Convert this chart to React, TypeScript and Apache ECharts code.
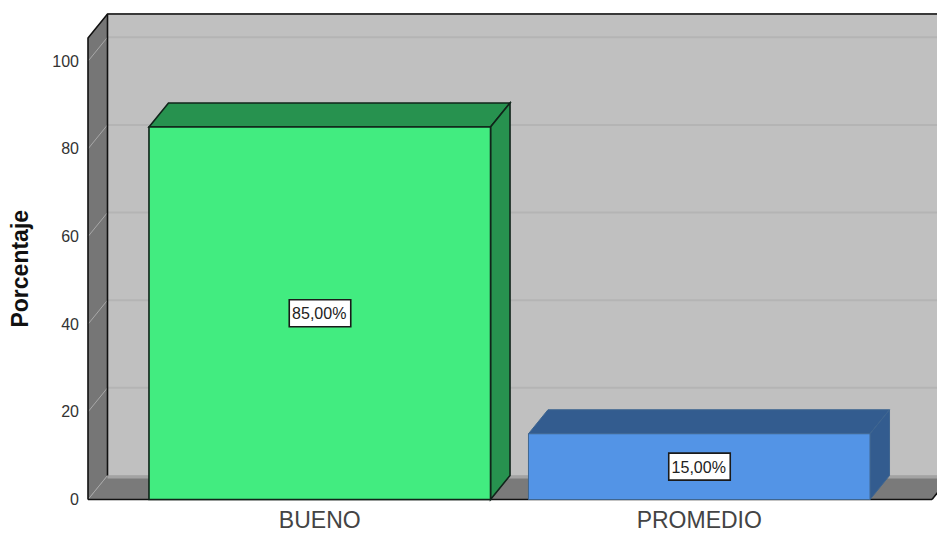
import React, { useEffect, useRef } from "react";
import * as echarts from "echarts";

const categories = ["BUENO", "PROMEDIO"];
const percentages = [85, 15];
const barLabels = ["85,00%", "15,00%"];
const yTicks = [0, 20, 40, 60, 80, 100];
const faceColors = ["#42EC80", "#5394E6"];
const sideColors = ["#27924F", "#335C8F"];
const edgeColors = ["#10241A", "#3F6690"];
const edgeWidths = [1.6, 1];

const DX = 19.5;
const DY = 24;
const FONT = '"Liberation Sans", Arial, sans-serif';

function renderWalls(params: any, api: any) {
  const cs = params.coordSys;
  const l = cs.x - 42;
  const r = cs.x + cs.width + 43;
  const b = cs.y + cs.height;
  const t = cs.y;
  const black = { stroke: "#111", lineWidth: 1.6, fill: "none" };
  const children: any[] = [
    { type: "polygon", shape: { points: [[l + DX, t - DY], [r + DX, t - DY], [r + DX, b - DY], [l + DX, b - DY]] }, style: { fill: "#C0C0C0" } },
    { type: "polygon", shape: { points: [[l, t], [l + DX, t - DY], [l + DX, b - DY], [l, b]] }, style: { fill: "#767676" } },
    { type: "polygon", shape: { points: [[l, b], [l + DX, b - DY], [r + DX, b - DY], [r, b]] }, style: { fill: "#7A7A7A" } },
    { type: "line", shape: { x1: l + DX, y1: b - DY + 1.5, x2: r + DX, y2: b - DY + 1.5 }, style: { stroke: "#A3A3A3", lineWidth: 3 } },
  ];
  yTicks.concat([105.3]).forEach((tick) => {
    const y = api.coord([0, tick])[1];
    if (tick <= 100) {
      children.push({ type: "line", shape: { x1: l, y1: y, x2: l + DX, y2: y - DY }, style: { stroke: "#A8A8A8", lineWidth: 1 } });
    }
    if (tick > 0) {
      children.push({ type: "line", shape: { x1: l + DX, y1: y - DY, x2: r + DX, y2: y - DY }, style: { stroke: "#B4B4B4", lineWidth: 2 } });
    }
  });
  children.push(
    { type: "polyline", shape: { points: [[l, b], [l, t], [l + DX, t - DY], [r + DX, t - DY]] }, style: black },
    { type: "line", shape: { x1: l + DX, y1: t - DY, x2: l + DX, y2: b - DY }, style: black },
    { type: "line", shape: { x1: l, y1: b, x2: r, y2: b }, style: black },
    { type: "line", shape: { x1: r, y1: b, x2: r + DX, y2: b - DY }, style: black }
  );
  return { type: "group", children };
}

function renderBar(params: any, api: any) {
  const i = params.dataIndex;
  const [cx, top] = api.coord([api.value(0), api.value(1)]);
  const base = api.coord([api.value(0), 0])[1];
  const w = api.size([1, 0])[0] * 0.9;
  const x0 = cx - w / 2;
  const x1 = cx + w / 2;
  const style = { stroke: edgeColors[i], lineWidth: edgeWidths[i] };
  const my = (top + base) / 2;
  return {
    type: "group",
    children: [
      { type: "polygon", shape: { points: [[x0, top], [x0 + DX, top - DY], [x1 + DX, top - DY], [x1, top]] }, style: { ...style, fill: sideColors[i] } },
      { type: "polygon", shape: { points: [[x1, top], [x1 + DX, top - DY], [x1 + DX, base - DY], [x1, base]] }, style: { ...style, fill: sideColors[i] } },
      { type: "rect", shape: { x: x0, y: top, width: w, height: base - top }, style: { ...style, fill: faceColors[i] } },
      { type: "rect", shape: { x: cx - 30.5, y: my - 13.5, width: 61.5, height: 27 }, style: { fill: "#FFFFFF", stroke: "#1A1A1A", lineWidth: 1.6 } },
      { type: "text", style: { x: cx - 0.5, y: my + 0.5, text: barLabels[i], align: "center", verticalAlign: "middle", fill: "#222", font: `16px ${FONT}` } },
    ],
  };
}

export default function App() {
  const ref = useRef<HTMLDivElement>(null);
  useEffect(() => {
    const chart = echarts.init(ref.current!, undefined, { renderer: "svg" });
    chart.setOption({
      animation: false,
      backgroundColor: "#FFFFFF",
      grid: { left: 130, width: 759, top: 38, height: 461.5, outerBoundsMode: "none" },
      xAxis: {
        type: "category",
        data: categories,
        axisLine: { show: false },
        axisTick: { show: false },
        axisLabel: { color: "#444", fontFamily: FONT, fontSize: 23, lineHeight: 20, margin: 10 },
      },
      yAxis: {
        type: "value",
        min: 0,
        max: 105.3,
        interval: 20,
        offset: 42,
        name: "Porcentaje",
        nameLocation: "middle",
        nameGap: 57,
        nameRotate: 90,
        nameTextStyle: { color: "#111", fontFamily: FONT, fontSize: 23, fontWeight: "bold" },
        axisLine: { show: false },
        axisTick: { show: false },
        splitLine: { show: false },
        axisLabel: { color: "#333", fontFamily: FONT, fontSize: 16, margin: 9, showMaxLabel: false, padding: [5, 0, 0, 0] },
      },
      series: [
        { type: "custom", silent: true, clip: false, z: 1, renderItem: renderWalls, data: [[0, 0]], encode: { x: 0, y: 1 } },
        { type: "custom", silent: true, clip: false, z: 2, renderItem: renderBar, data: percentages.map((v, i) => [i, v]), encode: { x: 0, y: 1 } },
      ],
    });
    return () => chart.dispose();
  }, []);
  return <div ref={ref} style={{ position: "absolute", left: 0, top: 0, width: 937, height: 533 }} />;
}
